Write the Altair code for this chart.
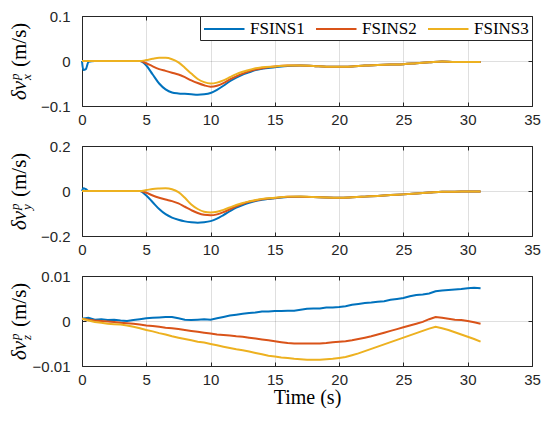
import altair as alt
import pandas as pd

SERIES = ["FSINS1", "FSINS2", "FSINS3"]
COLORS = ["#0072BD", "#D95319", "#EDB120"]
X_TICKS = [0, 5, 10, 15, 20, 25, 30, 35]

# ---- panels 1 & 2 time base (s)
T12 = [0, 0.1, 0.3, 0.5, 1, 2, 3, 4,
       4.5, 5, 5.5, 6, 6.5, 7, 7.5, 8, 8.5, 9, 9.5, 10, 10.5, 11, 11.5, 12, 12.5, 13, 13.5, 14,
       15, 16, 17, 18, 19, 20, 21, 22, 23, 24, 25, 26, 27, 28, 29, 30, 31]

VX1 = [0, -0.02, -0.018, -0.002, 0, 0, 0, 0,
       0, -0.010, -0.030, -0.050, -0.063, -0.070, -0.072, -0.073, -0.074, -0.075, -0.074, -0.071,
       -0.064, -0.055, -0.045, -0.037, -0.030, -0.025, -0.020, -0.017,
       -0.014, -0.011, -0.010, -0.011, -0.013, -0.013, -0.012, -0.010, -0.009, -0.008, -0.007,
       -0.005, -0.003, -0.001, -0.002, -0.002, -0.002]
VX2 = [0, 0, 0, 0, 0, 0, 0, 0,
       0, -0.005, -0.012, -0.018, -0.022, -0.026, -0.030, -0.036, -0.043, -0.049, -0.054, -0.057,
       -0.055, -0.049, -0.041, -0.034, -0.028, -0.023, -0.019, -0.016,
       -0.012, -0.010, -0.010, -0.011, -0.013, -0.013, -0.012, -0.010, -0.009, -0.008, -0.007,
       -0.005, -0.003, -0.001, -0.002, -0.002, -0.002]
VX3 = [0, 0, 0, 0, 0, 0, 0, 0,
       0, 0.002, 0.005, 0.007, 0.007, 0.004, -0.003, -0.015, -0.028, -0.040, -0.047, -0.050,
       -0.048, -0.043, -0.036, -0.029, -0.024, -0.020, -0.016, -0.014,
       -0.012, -0.010, -0.010, -0.011, -0.013, -0.013, -0.012, -0.010, -0.009, -0.008, -0.007,
       -0.005, -0.003, -0.001, -0.002, -0.002, -0.002]

VY1 = [0, 0.012, 0.008, 0, 0, 0, 0, 0,
       0, -0.020, -0.050, -0.080, -0.103, -0.118, -0.128, -0.135, -0.139, -0.141, -0.139, -0.134,
       -0.123, -0.107, -0.090, -0.074, -0.062, -0.052, -0.044, -0.039,
       -0.032, -0.027, -0.025, -0.027, -0.029, -0.030, -0.028, -0.025, -0.022, -0.018, -0.015,
       -0.011, -0.007, -0.003, -0.003, -0.002, -0.002]
VY2 = [0, 0, 0, 0, 0, 0, 0, 0,
       0, -0.008, -0.020, -0.030, -0.038, -0.045, -0.055, -0.070, -0.085, -0.098, -0.106, -0.108,
       -0.104, -0.094, -0.081, -0.068, -0.057, -0.048, -0.042, -0.037,
       -0.031, -0.026, -0.025, -0.027, -0.029, -0.030, -0.028, -0.025, -0.022, -0.018, -0.015,
       -0.011, -0.007, -0.003, -0.003, -0.002, -0.002]
VY3 = [0, 0, 0, 0, 0, 0, 0, 0,
       0, 0.004, 0.009, 0.011, 0.012, 0.008, -0.005, -0.030, -0.060, -0.080, -0.092, -0.095,
       -0.092, -0.084, -0.073, -0.062, -0.053, -0.046, -0.040, -0.035,
       -0.030, -0.025, -0.024, -0.027, -0.029, -0.030, -0.028, -0.025, -0.022, -0.018, -0.015,
       -0.011, -0.007, -0.003, -0.003, -0.002, -0.002]

# ---- panel 3 time base (s), 0..31 every 0.5 s
T3 = [i * 0.5 for i in range(63)]
VZ1 = [0.0005, 0.0007, 0.0003, 0.0004, 0.0002, 0.0003, 0.0001, 0.0000, 0.0002, 0.0004,
       0.0006, 0.0007, 0.0008, 0.0009, 0.0009, 0.0006, 0.0003, 0.0002, 0.0003, 0.0004,
       0.0003, 0.0006, 0.0009, 0.0012, 0.0014, 0.0016, 0.0018, 0.0019, 0.0021, 0.0021,
       0.0022, 0.0022, 0.0023, 0.0023, 0.0025, 0.0027, 0.0028, 0.0028, 0.0030, 0.0030,
       0.0031, 0.0033, 0.0036, 0.0038, 0.0040, 0.0041, 0.0043, 0.0044, 0.0047, 0.0049,
       0.0051, 0.0055, 0.0058, 0.0059, 0.0061, 0.0066, 0.0068, 0.0069, 0.0070, 0.0071,
       0.0073, 0.0074, 0.0073]
VZ2 = [0.0005, 0.0003, 0.0001, 0.0000, -0.0001, -0.0002, -0.0004, -0.0005, -0.0006, -0.0008,
       -0.0010, -0.0011, -0.0013, -0.0015, -0.0016, -0.0018, -0.0020, -0.0022, -0.0024, -0.0026,
       -0.0028, -0.0030, -0.0031, -0.0032, -0.0034, -0.0035, -0.0037, -0.0039, -0.0041, -0.0043,
       -0.0045, -0.0047, -0.0049, -0.0050, -0.0050, -0.0050, -0.0050, -0.0050, -0.0049, -0.0047,
       -0.0046, -0.0045, -0.0043, -0.0040, -0.0037, -0.0034, -0.0030, -0.0026, -0.0022, -0.0018,
       -0.0014, -0.0010, -0.0006, -0.0002, 0.0004, 0.0009, 0.0007, 0.0005, 0.0003, 0.0002,
       0.0000, -0.0003, -0.0006]
VZ3 = [0.0005, 0.0001, -0.0002, -0.0004, -0.0006, -0.0007, -0.0008, -0.0010, -0.0013, -0.0016,
       -0.0020, -0.0023, -0.0027, -0.0030, -0.0034, -0.0037, -0.0040, -0.0043, -0.0046, -0.0048,
       -0.0051, -0.0054, -0.0057, -0.0060, -0.0063, -0.0065, -0.0068, -0.0071, -0.0074, -0.0077,
       -0.0079, -0.0081, -0.0082, -0.0084, -0.0085, -0.0086, -0.0086, -0.0086, -0.0085, -0.0084,
       -0.0082, -0.0080, -0.0076, -0.0072, -0.0067, -0.0062, -0.0057, -0.0052, -0.0047, -0.0042,
       -0.0037, -0.0032, -0.0027, -0.0022, -0.0017, -0.0013, -0.0016, -0.0020, -0.0025, -0.0030,
       -0.0035, -0.0040, -0.0046]

SERIF = "Liberation Serif"
SANS = "Liberation Sans"
DARK = "#262626"
W, H = 450, 90


def frame(t, series_vals):
    rows = []
    for name, vals in zip(SERIES, series_vals):
        for ti, v in zip(t, vals):
            rows.append({"t": ti, "v": v, "s": name})
    return pd.DataFrame(rows)


def ylabel(sub):
    base = alt.Chart(alt.Data(values=[{"k": 0}]))
    common = dict(font=SERIF, angle=270, align="left", baseline="alphabetic", color="black")
    return [
        base.mark_text(text="δv", fontSize=21, fontStyle="italic", **common).encode(
            x=alt.value(-56), y=alt.value(84)),
        base.mark_text(text="p", fontSize=13, fontStyle="italic", **common).encode(
            x=alt.value(-63), y=alt.value(64)),
        base.mark_text(text=sub, fontSize=13, fontStyle="italic", **common).encode(
            x=alt.value(-51), y=alt.value(64)),
        base.mark_text(text="(m/s)", fontSize=21, **common).encode(
            x=alt.value(-56), y=alt.value(51)),
    ]


def panel(df, sub, dom, yvals, fmt, interp, legend, xtitle):
    xa = alt.Axis(values=X_TICKS, orient="bottom", offset=-4, tickSize=4, labelPadding=6,
                  grid=True, labelFlush=False, labelOverlap=False,
                  title=xtitle if xtitle else None)
    ya = alt.Axis(values=yvals, orient="left", offset=-4, tickSize=4, labelPadding=12,
                  grid=True, format=fmt, labelFlush=False, labelOverlap=False, title=None)
    color = alt.Color("s:N", scale=alt.Scale(domain=SERIES, range=COLORS),
                      legend=legend)
    lines = alt.Chart(df).mark_line(strokeWidth=2, interpolate=interp).encode(
        x=alt.X("t:Q", scale=alt.Scale(domain=[0, 35], nice=False), axis=xa),
        y=alt.Y("v:Q", scale=alt.Scale(domain=dom, nice=False), axis=ya),
        color=color,
    )
    ticks = alt.Chart(df).mark_point(opacity=0).encode(
        x=alt.X("t:Q", axis=alt.Axis(values=X_TICKS, orient="top", offset=-4, tickSize=4,
                                     labels=False, grid=False, title=None)),
        y=alt.Y("v:Q", axis=alt.Axis(values=yvals, orient="right", offset=-4, tickSize=4,
                                     labels=False, grid=False, title=None)),
    )
    return alt.layer(lines, ticks, *ylabel(sub)).resolve_axis(
        x="independent", y="independent").properties(width=W, height=H)


legend1 = alt.Legend(title=None, orient="top-right", offset=0, direction="horizontal",
                     strokeColor=DARK, fillColor="white", padding=3,
                     symbolType="M-1,0H3.5", symbolSize=324, symbolStrokeWidth=2,
                     labelFont=SERIF, labelFontSize=17, labelColor="black",
                     labelOffset=27, columnPadding=7, symbolOffset=0)

p1 = panel(frame(T12, [VX1, VX2, VX3]), "x", [-0.1, 0.1], [-0.1, 0, 0.1], ".1~f",
           "monotone", legend1, None)
p2 = panel(frame(T12, [VY1, VY2, VY3]), "y", [-0.2, 0.2], [-0.2, 0, 0.2], ".1~f",
           "monotone", None, None)
p3 = panel(frame(T3, [VZ1, VZ2, VZ3]), "z", [-0.01, 0.01], [-0.01, 0, 0.01], ".2~f",
           "linear", None, "Time (s)")

chart = alt.vconcat(p1, p2, p3, spacing=10).resolve_legend(color="independent").properties(
    padding={"left": 0, "top": 0, "right": 0, "bottom": 0}
).configure_view(stroke=DARK, strokeWidth=1).configure_axis(
    domain=False, tickColor=DARK, labelFont=SANS, labelFontSize=15, labelColor=DARK,
    gridColor=DARK, gridOpacity=0.15, titleFont=SERIF, titleFontSize=20,
    titleFontWeight="normal", titleColor="black", titlePadding=0
)

chart.save("out.html", embed_options={"renderer": "svg", "actions": False})
